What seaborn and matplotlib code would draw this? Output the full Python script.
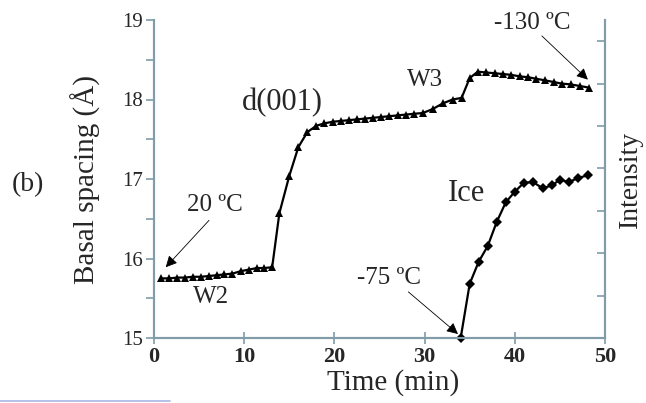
import matplotlib
matplotlib.use("Agg")
import matplotlib.pyplot as plt
from matplotlib.lines import Line2D
import seaborn as sns
import pandas as pd

# d(001) basal spacing (triangles)
d001_time = [0.8, 1.7, 2.6, 3.4, 4.3, 5.2, 6.1, 7.0, 7.8, 8.7, 9.6, 10.5, 11.4, 12.2, 13.1,
             13.9, 15.0, 16.0, 17.0, 18.0,
             18.9, 19.8, 20.7, 21.6, 22.5, 23.4, 24.3, 25.2, 26.1, 27.0, 27.9, 28.8, 29.8,
             30.9, 32.0, 33.1, 34.1, 35.0, 35.9, 36.8, 37.8, 38.7, 39.6, 40.6, 41.5, 42.4,
             43.4, 44.3, 45.2, 46.2, 47.2, 48.2]
d001_spacing = [15.75, 15.75, 15.76, 15.76, 15.77, 15.77, 15.78, 15.79, 15.80, 15.81, 15.84, 15.86, 15.88, 15.88, 15.89,
                16.57, 17.04, 17.40, 17.59, 17.67,
                17.70, 17.72, 17.73, 17.74, 17.75, 17.76, 17.77, 17.78, 17.79, 17.80, 17.81, 17.82, 17.83,
                17.88, 17.95, 18.00, 18.02, 18.27, 18.35, 18.34, 18.33, 18.32, 18.31, 18.29, 18.28, 18.26,
                18.24, 18.22, 18.20, 18.19, 18.17, 18.15]

# Ice intensity (diamonds, right axis, arbitrary units)
ice_time = [34.0, 35.0, 36.0, 37.0, 38.0, 39.0, 40.0, 41.0, 42.0, 43.1, 44.1, 45.0, 46.0, 47.0, 48.1]
ice_intensity = [0.0, 1.28, 1.80, 2.17, 2.74, 3.20, 3.45, 3.66, 3.68, 3.53, 3.60, 3.73, 3.68, 3.77, 3.84]

x_ticks = [0, 10, 20, 30, 40, 50]
y_ticks = [15, 16, 17, 18, 19]

AX_COLOR = "#7f9ca8"

sns.set_style("ticks")
plt.rcParams["font.family"] = ["Liberation Serif", "DejaVu Serif"]

fig = plt.figure(figsize=(6.46, 4.03), dpi=100)
ax = fig.add_axes([154 / 646, 1 - 338 / 403, 451 / 646, 318 / 403])
ax2 = ax.twinx()

df_d = pd.DataFrame({"t": d001_time, "d": d001_spacing})
df_i = pd.DataFrame({"t": ice_time, "i": ice_intensity})

sns.lineplot(data=df_d, x="t", y="d", ax=ax, color="black", lw=1.6,
             marker="^", markersize=5.5, markeredgewidth=0)
sns.lineplot(data=df_i, x="t", y="i", ax=ax2, color="black", lw=1.6,
             marker="D", markersize=5, markeredgewidth=0, clip_on=False)

ax.set_xlim(0, 50)
ax.set_ylim(15, 19)
ax2.set_ylim(0, 7.5)
ax.set_xticks(x_ticks)
ax.set_yticks(y_ticks)
ax.set_yticks([15.5, 16.5, 17.5, 18.5], minor=True)
ax2.set_yticks(range(0, 8))
ax2.set_yticklabels([])

ax.spines["top"].set_visible(False)
ax2.spines["top"].set_visible(False)
for s in ["left", "bottom", "right"]:
    for a in (ax, ax2):
        a.spines[s].set_color(AX_COLOR)
        a.spines[s].set_linewidth(1.5)

ax.tick_params(axis="y", which="both", direction="out", length=6, width=1.2,
               color=AX_COLOR, labelsize=15, pad=2)
ax.tick_params(axis="x", direction="inout", length=9, width=1.2,
               color=AX_COLOR, labelsize=16, pad=2)
for lab in ax.get_xticklabels():
    lab.set_fontweight("bold")
ax2.tick_params(axis="y", direction="in", length=6, width=1.2, color=AX_COLOR)

ax.set_xlabel("Time (min)", fontsize=21, va="top")
ax.xaxis.set_label_coords(26.5 / 50, -0.097)
ax.set_ylabel("Basal spacing (Å)", fontsize=21, labelpad=15)
ax2.set_ylabel("Intensity", fontsize=20, labelpad=6)

arrow = dict(arrowstyle="-|>", color="black", lw=0.6, mutation_scale=17, shrinkA=0, shrinkB=0)
ax.text(6.7, 16.67, "20 ºC", fontsize=18, ha="center", va="center")
ax.annotate("", xy=(1.3, 15.89), xytext=(6.1, 16.48), arrowprops=arrow)
ax.text(6.3, 15.52, "W2", fontsize=18, ha="center", va="center")
ax.text(14.2, 17.96, "d(001)", fontsize=22, ha="center", va="center")
ax.text(30.0, 18.25, "W3", fontsize=18, ha="center", va="center")
ax.text(41.9, 18.96, "-130 ºC", fontsize=18, ha="center", va="center", clip_on=False)
ax.annotate("", xy=(48.1, 18.25), xytext=(43.0, 18.8), arrowprops=arrow)
ax.text(34.6, 16.82, "Ice", fontsize=22, ha="center", va="center")
ax.text(26.1, 15.75, "-75 ºC", fontsize=18, ha="center", va="center")
ax.annotate("", xy=(33.7, 15.05), xytext=(28.2, 15.58), arrowprops=arrow)

fig.text(28 / 646, 1 - 185 / 403, "(b)", fontsize=20, ha="center", va="center")
fig.add_artist(Line2D([0, 170 / 646], [0.004, 0.004], color="#a9b6e6", lw=1.2,
                      transform=fig.transFigure))

fig.savefig("out.png", dpi=100)
